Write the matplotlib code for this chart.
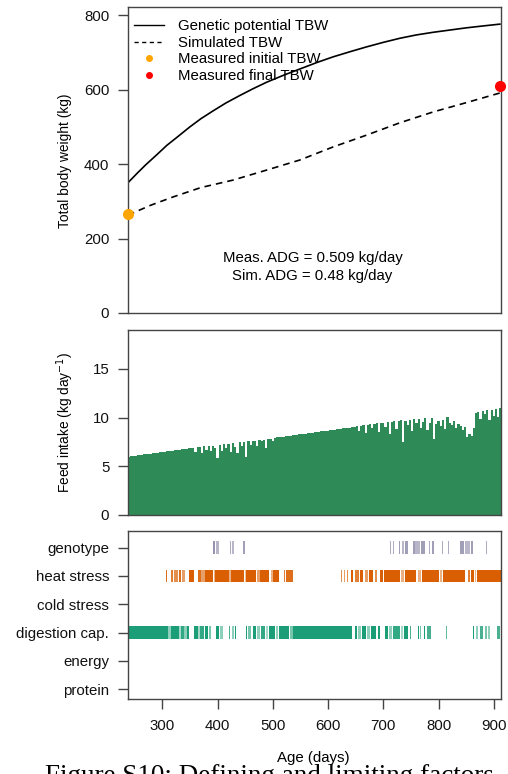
import numpy as np
import matplotlib
matplotlib.use('Agg')
import matplotlib.pyplot as plt
from matplotlib.lines import Line2D
from matplotlib.colors import to_rgb

plt.rcParams['font.family'] = ['Liberation Sans', 'DejaVu Sans']

# --- body weight (kg) ---
gen_days = [238, 255, 270, 290, 308, 330, 350, 370, 392, 415, 440, 465, 489, 520, 550, 580,
            609, 640, 670, 700, 730, 760, 790, 820, 850, 880, 911]
gen_tbw = [350, 376, 398, 425, 450, 476, 500, 522, 543, 564, 584, 603, 620, 639, 656, 673,
           688, 702, 715, 727, 738, 747, 754, 760, 766, 771, 776]
sim_days = [238, 280, 320, 370, 428, 489, 549, 609, 670, 730, 790, 850, 911]
sim_tbw = [263, 290, 312, 337, 357, 384, 411, 446, 478, 511, 540, 565, 591]
meas_init = (238, 265)
meas_final = (911, 610)
meas_adg = 0.509
sim_adg = 0.48

# --- feed intake (kg/day), one value every 4 days from day 238 ---
fi_start, fi_step = 238, 4
feed_intake = [
    6.00, 6.03, 6.06, 6.09, 6.12, 6.16, 6.19, 6.22, 6.25, 6.28,
    6.31, 6.34, 6.37, 6.40, 6.43, 6.47, 6.50, 6.53, 6.56, 6.59,
    6.62, 6.65, 6.68, 6.71, 6.74, 6.78, 6.81, 6.84, 6.87, 6.90,
    6.45, 6.95, 7.00, 6.40, 7.05, 6.70, 7.10, 6.55, 7.12, 6.90,
    5.90, 7.20, 6.60, 7.25, 6.85, 7.30, 6.50, 7.35, 7.00, 6.40,
    7.45, 7.10, 7.50, 5.95, 7.55, 7.20, 7.60, 7.65, 7.10, 7.70,
    7.60, 7.75,
    6.85, 7.80, 7.85, 7.55, 7.95, 7.98, 8.00, 8.03, 8.06, 8.09,
    8.12, 8.15, 8.18, 8.21, 8.24, 8.27, 8.30, 8.33, 8.36, 8.40,
    8.43, 8.46, 8.49, 8.52, 8.55, 8.58, 8.61, 8.64, 8.67, 8.70,
    8.73, 8.76, 8.79, 8.82, 8.86, 8.89, 8.92, 8.95, 8.98, 9.01,
    9.04,
    9.10, 8.60, 9.15, 9.20, 8.40, 9.25, 9.30, 8.90, 9.35, 9.40,
    8.50, 9.45, 9.50, 9.00, 9.55, 8.30, 9.60, 9.65, 8.80, 9.70,
    9.75, 7.50, 9.70, 9.20, 9.80, 8.60, 9.85, 9.40, 9.90, 8.90,
    9.60, 9.95, 8.70, 9.50, 10.00, 7.80, 9.30, 9.70, 9.10, 9.80,
    8.80, 10.05, 9.40, 9.20, 9.70, 8.90, 9.30, 9.10, 8.70, 9.00,
    8.00, 8.30, 8.10, 8.90,
    10.50, 10.60, 9.90, 10.70, 10.40, 10.75, 9.80, 10.80, 10.20, 10.90,
    10.10, 10.95,
]

# --- limiting factors: (start day, end day, intensity) ---
factor_names = ['genotype', 'heat stress', 'cold stress', 'digestion cap.', 'energy', 'protein']
genotype = [(392, 396, 0.9), (397, 402, 0.6), (422, 424, 0.7), (427, 430, 0.6), (446, 449, 0.8),
            (688, 689, 0.8), (712, 714, 0.7), (717, 719, 0.7), (728, 731, 0.8), (733, 738, 0.6),
            (740, 744, 0.8), (754, 757, 0.8), (758, 766, 0.6), (768, 775, 0.8), (782, 785, 0.7),
            (789, 792, 0.8), (806, 808, 0.7), (817, 819, 0.7), (838, 846, 0.8), (848, 856, 0.6),
            (858, 862, 0.8), (885, 887, 0.7)]
heat_stress = [(307, 309, 0.9), (316, 319, 0.8), (321, 328, 0.7), (330, 334, 0.9), (336, 342, 0.6),
               (348, 357, 1.0), (364, 370, 0.9), (371, 378, 0.6), (378, 392, 1.0), (393, 396, 0.5),
               (396, 420, 1.0), (421, 424, 0.5), (425, 448, 1.0), (449, 452, 0.4), (452, 470, 1.0),
               (472, 476, 0.6), (476, 494, 1.0), (496, 500, 0.5), (500, 512, 1.0), (520, 522, 0.8),
               (524, 536, 0.9), (623, 625, 0.7), (628, 631, 0.6), (634, 636, 0.7), (641, 646, 1.0),
               (648, 656, 0.8), (658, 664, 1.0), (666, 672, 0.6), (674, 682, 1.0), (685, 688, 0.7),
               (694, 700, 1.0), (702, 730, 1.0), (732, 738, 0.5), (740, 760, 1.0), (762, 768, 0.5),
               (770, 800, 1.0), (802, 806, 0.5), (808, 848, 1.0), (853, 856, 0.8), (858, 864, 1.0),
               (866, 868, 0.5), (870, 913, 1.0)]
cold_stress = []
digestion = [(238, 310, 1.0), (310, 316, 0.5), (316, 330, 1.0), (330, 334, 0.4), (334, 340, 0.9),
             (340, 344, 0.5), (344, 349, 1.0), (357, 364, 1.0), (364, 368, 0.4), (368, 375, 0.9),
             (378, 382, 1.0), (384, 389, 0.6), (398, 402, 1.0), (405, 410, 0.5), (420, 423, 0.8),
             (427, 430, 0.5), (432, 434, 1.0), (451, 453, 1.0), (455, 460, 0.6), (464, 470, 1.0),
             (472, 476, 0.5), (478, 486, 0.9), (488, 492, 0.4), (494, 504, 1.0), (506, 510, 0.5),
             (512, 530, 1.0), (532, 536, 0.6), (536, 644, 1.0), (648, 652, 1.0), (654, 660, 0.5),
             (662, 668, 1.0), (670, 676, 0.5), (678, 686, 1.0), (690, 694, 1.0), (703, 708, 1.0),
             (710, 716, 0.5), (718, 730, 0.9), (732, 736, 0.4), (738, 744, 1.0), (748, 751, 0.8),
             (762, 764, 1.0), (766, 768, 0.6), (773, 775, 1.0), (779, 786, 0.8), (813, 816, 0.7),
             (862, 865, 1.0), (867, 872, 0.5), (875, 880, 0.8), (884, 887, 0.6), (890, 893, 0.5),
             (906, 911, 0.8)]
energy = []
protein = []
factor_data = [genotype, heat_stress, cold_stress, digestion, energy, protein]
factor_colors = ['#8A86A6', '#D95F02', '#000000', '#1B9E77', '#000000', '#000000']

xlim = (238, 913)
frame_col = '#444444'
fs = 10.8


def style_axes(ax):
    for s in ax.spines.values():
        s.set_color(frame_col)
        s.set_linewidth(1.0)
    ax.tick_params(direction='out', length=7, width=1.0, color=frame_col,
                   labelsize=fs, labelcolor='#111111', pad=6.5)


fig = plt.figure(figsize=(5.08, 7.74), dpi=100)
W, H = 508, 774
def rect(l, t, r, b):
    return [l / W, 1 - b / H, (r - l) / W, (b - t) / H]

# top panel
ax1 = fig.add_axes(rect(128, 7, 501, 313))
ax1.plot(gen_days, gen_tbw, color='black', lw=1.2)
ax1.plot(sim_days, sim_tbw, color='black', lw=1.2, ls=(0, (4, 3)))
ax1.plot(*meas_init, 'o', color='orange', ms=7, clip_on=False, zorder=5)
ax1.plot(*meas_final, 'o', color='red', ms=7, clip_on=False, zorder=5)
ax1.set_xlim(xlim)
ax1.set_ylim(0, 822)
ax1.set_yticks([0, 200, 400, 600, 800])
ax1.set_xticks([])
style_axes(ax1)
ax1.text(572, 148, f'Meas. ADG = {meas_adg} kg/day', ha='center', va='center', fontsize=fs)
ax1.text(572, 99, f'Sim. ADG = {sim_adg} kg/day', ha='center', va='center', fontsize=fs)
handles = [Line2D([], [], color='black', lw=1.0),
           Line2D([], [], color='black', lw=1.0, ls=(0, (3, 2.5))),
           Line2D([], [], color='orange', marker='o', ls='', ms=4),
           Line2D([], [], color='red', marker='o', ls='', ms=4)]
ax1.legend(handles, ['Genetic potential TBW', 'Simulated TBW', 'Measured initial TBW',
                     'Measured final TBW'],
           loc='upper left', bbox_to_anchor=(-0.008, 0.99), frameon=False, fontsize=fs,
           handlelength=2.0, handletextpad=0.9, labelspacing=0.18, borderaxespad=0.2)
fig.text(65 / W, 1 - 161 / H, 'Total body weight (kg)', rotation=90, ha='center',
         va='center', fontsize=9.9)

# middle panel
ax2 = fig.add_axes(rect(128, 330, 501, 515))
fi_days = fi_start + fi_step * np.arange(len(feed_intake))
ax2.bar(fi_days, feed_intake, width=fi_step, align='edge', color='#2E8B57', linewidth=0)
ax2.set_xlim(xlim)
ax2.set_ylim(0, 19)
ax2.set_yticks([0, 5, 10, 15])
ax2.set_xticks([])
style_axes(ax2)
fig.text(65 / W, 1 - 422 / H, 'Feed intake (kg day$^{-1}$)', rotation=90, ha='center',
         va='center', fontsize=9.9)

# bottom panel
ax3 = fig.add_axes(rect(128, 531, 501, 699))
ypos = np.arange(len(factor_names))[::-1] + 1
for y, segs, col in zip(ypos, factor_data, factor_colors):
    base = np.array(to_rgb(col))
    for s, e, k in segs:
        c = base * k + np.ones(3) * (1 - k)
        ax3.broken_barh([(s, e - s)], (y - 0.22, 0.44), facecolor=c, edgecolor='none')
ax3.set_xlim(xlim)
ax3.set_ylim(0.65, 6.59)
ax3.set_yticks(ypos)
ax3.set_yticklabels(factor_names)
ax3.set_xticks([300, 400, 500, 600, 700, 800, 900])
style_axes(ax3)
ax3.tick_params(axis='x', pad=7.5)
fig.text(313 / W, 1 - 758 / H, 'Age (days)', ha='center', va='center', fontsize=fs)
fig.text(45 / W, 1 - 764 / H, 'Figure S10: Defining and limiting factors', ha='left',
         va='top', fontsize=19.5, family=['Liberation Serif', 'DejaVu Serif'])

fig.savefig('out.png', dpi=100)
